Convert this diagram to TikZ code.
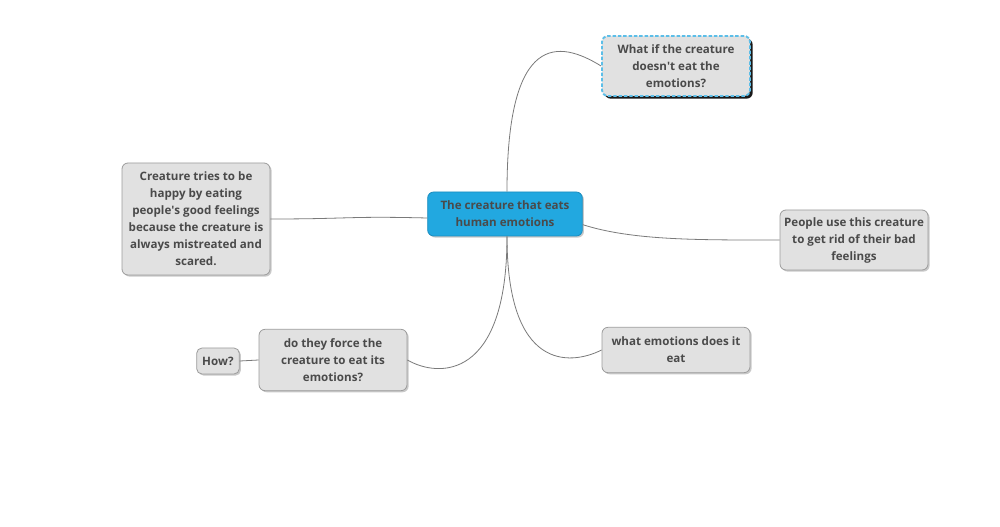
\documentclass[tikz,border=0pt]{standalone}
\usepackage{fontspec}
\setmainfont{Open Sans}
\usetikzlibrary{positioning,shadows}

\definecolor{topicblue}{HTML}{22A8E0}
\definecolor{topicedge}{HTML}{1B8CBE}
\definecolor{boxgray}{HTML}{E1E1E1}
\definecolor{boxedge}{HTML}{9C9C9C}
\definecolor{inkgray}{HTML}{4A4A4A}
\definecolor{dashblue}{HTML}{5CBEE8}
\definecolor{linkgray}{HTML}{7A7A7A}

\begin{document}
\begin{tikzpicture}[x=0.75pt, y=-0.75pt,
  every node/.style={font=\fontsize{8.7}{12.75}\selectfont\bfseries, text=inkgray, align=center},
  idea/.style={draw=boxedge, fill=boxgray, rounded corners=4.5pt, line width=0.6pt, minimum width=111pt, inner sep=2pt,
    drop shadow={shadow xshift=1.2pt, shadow yshift=-1.2pt, fill=black!35, opacity=0.6}},
  central/.style={idea, draw=topicedge, fill=topicblue, minimum width=116pt, minimum height=33pt},
  focus/.style={idea, draw=dashblue, dashed, dash pattern=on 2.6pt off 1.4pt, line width=1.4pt,
    drop shadow={shadow xshift=2pt, shadow yshift=-2pt, fill=black!90, opacity=1}},
  link/.style={draw=linkgray, line width=0.6pt}]

  \useasboundingbox[fill=white] (0,0) rectangle (1000,527);

  \node[central] (ctr) at (505,214) {The creature that eats\\human emotions};
  \node[focus, minimum height=45pt] (whatif) at (676,66) {What if the creature\\doesn\textquotesingle t eat the\\emotions?};
  \node[idea, minimum height=84pt] (happy) at (196,219) {Creature tries to be\\happy by eating\\people\textquotesingle s good feelings\\because the creature is\\always mistreated and\\scared.};
  \node[idea, minimum height=45pt] (riddance) at (854,240) {People use this creature\\to get rid of their bad\\feelings};
  \node[idea, minimum height=34pt] (which) at (676,350) {what emotions does it\\eat};
  \node[idea, minimum height=46pt] (force) at (333,360) {do they force the\\creature to eat its\\emotions?};
  \node[idea, minimum width=32pt, minimum height=19.5pt, rounded corners=4pt] (how) at (218,361) {How?};

  % Branches from the central topic
  \draw[link] ([xshift=1.5pt]ctr.north) .. controls +(0,-160) and +(-42,-26) .. (whatif.west);
  \draw[link] ([yshift=-3pt]ctr.west) .. controls +(-80,-2) and +(80,0) .. (happy.east);
  \draw[link] ([yshift=-8pt]ctr.east) .. controls +(50,16) and +(-80,0) .. (riddance.west);
  \draw[link] ([xshift=1.5pt]ctr.south) .. controls +(0,134) and +(-32,16) .. (which.west);
  \draw[link] ([xshift=1.5pt]ctr.south) .. controls +(0,144) and +(31,18) .. (force.east);
  \draw[link] (force.west) -- (how.east);
\end{tikzpicture}
\end{document}
